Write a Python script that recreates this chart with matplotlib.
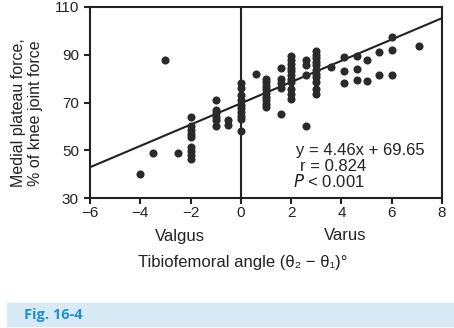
import matplotlib
matplotlib.use("Agg")
import matplotlib.pyplot as plt
from matplotlib.patches import Rectangle

plt.rcParams["font.family"] = ["Liberation Sans", "DejaVu Sans"]

# tibiofemoral angle (deg) and medial plateau force (% of knee joint force)
angle_valgus = [-4, -3.5, -2.5, -3,
                -2, -2, -2, -2, -2, -2, -2, -2, -2,
                -1, -1, -1, -1, -1, -1,
                -0.5, -0.5]
force_valgus = [40, 49, 49, 88,
                64, 60, 58.5, 57, 55.5, 51.5, 49.5, 48, 46.5,
                71, 67, 65.5, 64, 62.5, 60,
                62.5, 60.5]

angle_zero = [0, 0, 0, 0, 0, 0, 0, 0, 0, 0]
force_zero = [78, 76, 73, 71, 69, 67.5, 66, 64.5, 63, 58]

angle_varus = [0.6,
               1, 1, 1, 1, 1, 1, 1, 1, 1,
               1.6, 1.6, 1.6, 1.6, 1.6,
               2, 2, 2, 2, 2, 2, 2, 2, 2, 2, 2,
               2.6, 2.6, 2.6, 2.6,
               3, 3, 3, 3, 3, 3, 3, 3, 3, 3, 3,
               3.6,
               4.1, 4.1, 4.1,
               4.6, 4.6, 4.6,
               5, 5,
               5.5, 5.5,
               6, 6, 6,
               7.1]
force_varus = [82,
               80, 78.5, 77, 75.5, 74, 72.5, 71, 69.5, 68,
               84.5, 80, 78, 76, 65,
               89.5, 88, 86, 84.5, 83, 81.5, 80, 78.5, 75.5, 73.5, 71.5,
               88, 85.5, 81.5, 60,
               91.5, 90, 88.5, 87, 85.5, 83.5, 82, 80.5, 78.5, 75.5, 73.5,
               85,
               89, 83.3, 78,
               89.5, 84, 79.5,
               88, 79,
               91, 81.5,
               97.5, 92, 81.5,
               93.5]

slope = 4.46
intercept = 69.65
x_ticks = [-6, -4, -2, 0, 2, 4, 6, 8]
y_ticks = [30, 50, 70, 90, 110]

fig = plt.figure(figsize=(4.54, 3.28), dpi=100)
ax = fig.add_axes([90 / 454, 130 / 328, 352 / 454, 191 / 328])

xs = angle_valgus + angle_zero + angle_varus
ys = force_valgus + force_zero + force_varus
ax.scatter(xs, ys, s=34, color="#2a2a2a", linewidths=0, zorder=3)

line_x = [-6, 8]
line_y = [slope * v + intercept for v in line_x]
ax.plot(line_x, line_y, color="#222222", lw=1.5, zorder=2)
ax.axvline(0, color="#222222", lw=1.5, zorder=2)

ax.set_xlim(-6, 8)
ax.set_ylim(30, 110)
ax.set_xticks(x_ticks)
ax.set_yticks(y_ticks)
ax.tick_params(direction="out", length=4, width=1.5, labelsize=11,
               colors="#222222")
ax.tick_params(axis="y", pad=4)
ax.tick_params(axis="x", pad=2)
for sp in ax.spines.values():
    sp.set_linewidth(1.5)
    sp.set_color("#222222")

ax.text(2.19, 50, "y = 4.46x + 69.65", fontsize=12, va="center", color="#222222")
ax.text(2.35, 43.3, "r = 0.824", fontsize=12, va="center", color="#222222")
ax.text(2.07, 37.1, "$P$ < 0.001", fontsize=12, va="center", color="#222222")

fig.text(180 / 454, 1 - 236 / 328, "Valgus", fontsize=12, ha="center",
         va="center", color="#222222")
fig.text(345 / 454, 1 - 236 / 328, "Varus", fontsize=12, ha="center",
         va="center", color="#222222")
fig.text(243 / 454, 1 - 263 / 328, "Tibiofemoral angle (θ\u2082 \u2212 θ\u2081)°",
         fontsize=12, ha="center", va="center", color="#222222")
fig.text(27 / 454, 1 - 113 / 328, "Medial plateau force,\n% of knee joint force",
         fontsize=11.5, ha="center", va="center", rotation=90,
         linespacing=1.1, color="#222222")

fig.patches.append(Rectangle((7 / 454, 2 / 328), 1 - 7 / 454, 23 / 328,
                             transform=fig.transFigure, color="#d9eaf7",
                             zorder=0))
fig.text(24 / 454, 1 - 315 / 328, "Fig. 16-4", fontsize=10.5, fontweight="bold",
         family="Open Sans", color="#1f8fd6", va="center", ha="left")

fig.savefig("out.png", dpi=100)
